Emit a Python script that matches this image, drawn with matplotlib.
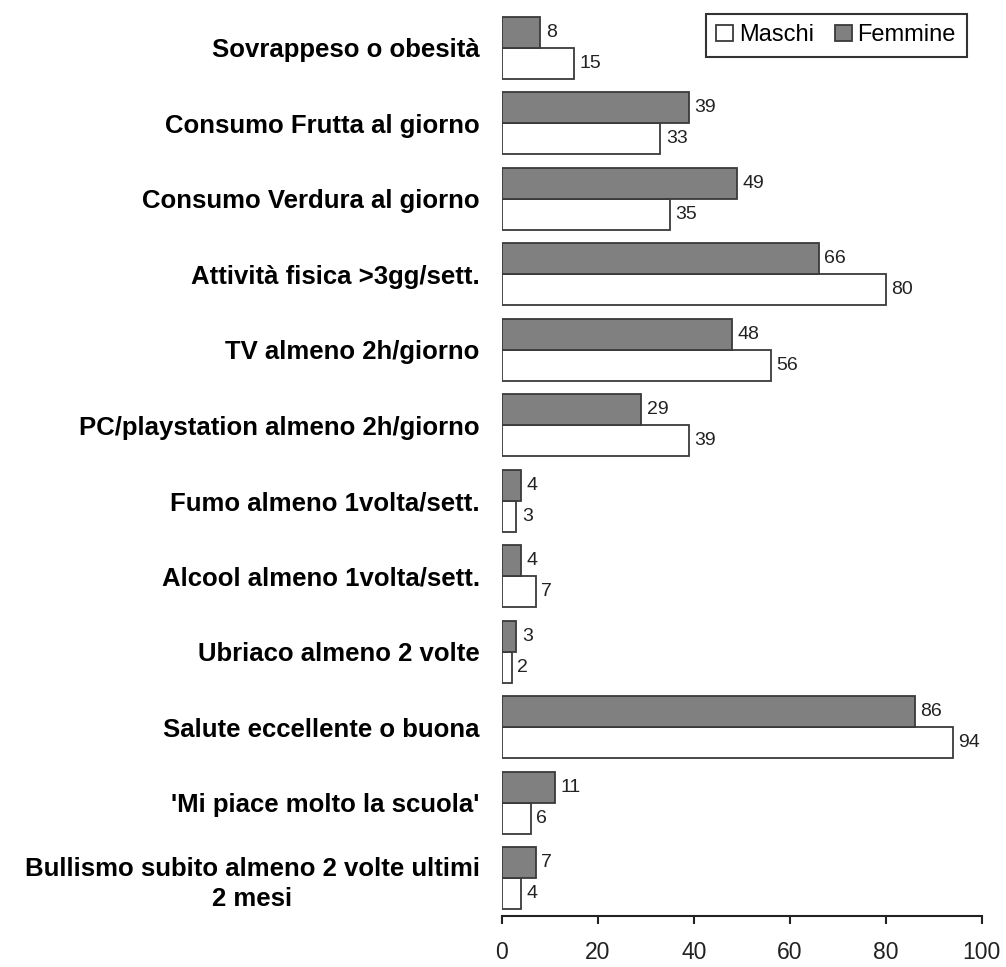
import matplotlib.pyplot as plt
import numpy as np

categories = [
    "Sovrappeso o obesità",
    "Consumo Frutta al giorno",
    "Consumo Verdura al giorno",
    "Attività fisica >3gg/sett.",
    "TV almeno 2h/giorno",
    "PC/playstation almeno 2h/giorno",
    "Fumo almeno 1volta/sett.",
    "Alcool almeno 1volta/sett.",
    "Ubriaco almeno 2 volte",
    "Salute eccellente o buona",
    "'Mi piace molto la scuola'",
    "Bullismo subito almeno 2 volte ultimi\n2 mesi",
]
maschi = [15, 33, 35, 80, 56, 39, 3, 7, 2, 94, 6, 4]
femmine = [8, 39, 49, 66, 48, 29, 4, 4, 3, 86, 11, 7]

plt.rcParams["font.family"] = ["Liberation Sans", "DejaVu Sans"]

fig = plt.figure(figsize=(10.06, 9.67), dpi=100)
ax = fig.add_axes([0.499, 0.0527, 0.477, 0.937])

y = np.arange(len(categories))
h = 0.41
edge = "#3a3a3a"

bm = ax.barh(y + h / 2, maschi, height=h, color="white", edgecolor=edge, linewidth=1.3, label="Maschi")
bf = ax.barh(y - h / 2, femmine, height=h, color="#808080", edgecolor=edge, linewidth=1.3, label="Femmine")

for bars, vals in ((bm, maschi), (bf, femmine)):
    for b, v in zip(bars, vals):
        ax.annotate(str(v), (b.get_width(), b.get_y() + b.get_height() / 2),
                    xytext=(4, 0), textcoords="offset points",
                    va="center", ha="left", fontsize=14, color="#222222")

ax.set_ylim(len(categories) - 0.5, -0.5)
ax.set_xlim(0, 100)
ax.set_xticks([0, 20, 40, 60, 80, 100])
ax.tick_params(axis="x", labelsize=16.5, length=6, width=1.5, direction="out", pad=12, colors="#222222")

ax.set_yticks(y)
ax.set_yticklabels(categories, fontsize=18.5, fontweight="bold", multialignment="center", linespacing=1.35)
ax.tick_params(axis="y", length=0, pad=16)

for s in ("top", "right", "left"):
    ax.spines[s].set_visible(False)
ax.spines["bottom"].set_linewidth(1.5)
ax.spines["bottom"].set_color("#222222")

leg = ax.legend(loc="upper right", bbox_to_anchor=(0.968, 0.996), fontsize=17, frameon=True,
                fancybox=False, edgecolor="black", ncol=2, handlelength=0.7, handleheight=0.7,
                handletextpad=0.25, columnspacing=0.9, borderpad=0.45, borderaxespad=0)
leg.get_frame().set_linewidth(1.5)

fig.savefig("out.png", dpi=100)
